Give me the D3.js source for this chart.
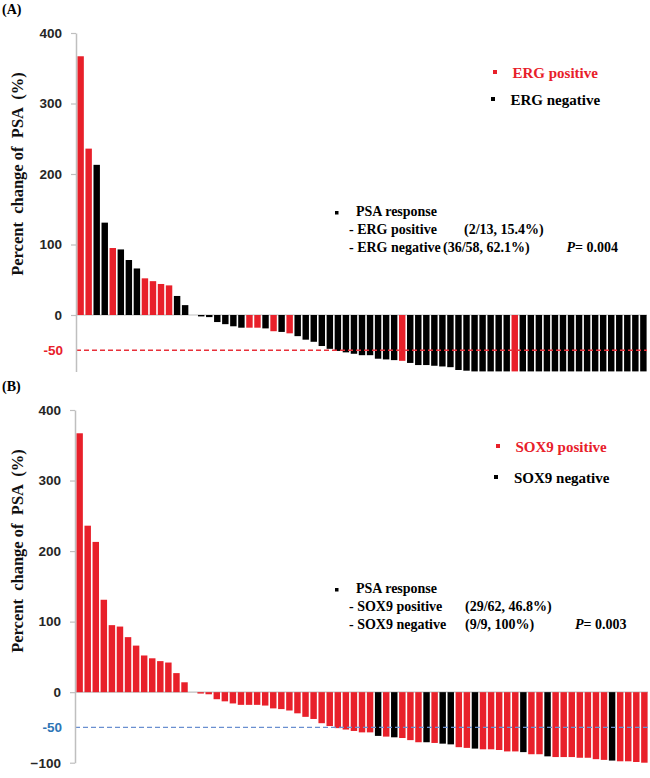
<!DOCTYPE html>
<html><head><meta charset="utf-8">
<script src="https://cdn.jsdelivr.net/npm/d3@7"></script>
<style>body{margin:0;background:#fff}svg text{white-space:pre}</style>
</head><body><svg id="chart" width="650" height="778"></svg>
<script>
// ---------- data ----------
const patients = d3.range(1, 72);   // 71 patients, sorted by PSA change
const psaChange = [367,236,213,131,95,93,78,66,52,48,
  44,42,27,14,0,-2,-3,-10,-13,-16,
  -18,-18,-18,-19,-23,-24,-26,-30,-35,-38,
  -44,-48,-51,-53,-55,-57,-57,-62,-63,-64,
  -65,-68,-71,-71,-72,-73,-74,-78,-79,-80,
  -81,-81,-82,-84,-84,-85,-88,-88,-91,-92,
  -92,-92,-93,-93,-95,-96,-97,-98,-98,-99,
  -100];
const ergPositivePatients = [1,2,5,9,10,11,12,22,23,25,27,41,55];
const sox9NegativePatients = [38,40,44,46,47,50,56,59,67];
const ticksA = [0,100,200,300,400];
const ticksB = [-100,0,100,200,300,400];
const domainA = [-80, 400];
const domainB = [-100, 400];
const threshold = -50;
const legendA = ["ERG positive", "ERG negative"];
const legendB = ["SOX9 positive", "SOX9 negative"];
const responseA = ["- ERG positive", "(2/13, 15.4%)", "- ERG negative", "(36/58, 62.1%)", "0.004"];
const responseB = ["- SOX9 positive", "(29/62, 46.8%)", "- SOX9 negative", "(9/9, 100%)", "0.003"];

// ---------- drawing ----------
const RED = "#e8202a", BLACK = "#000", GRAY = "#bfbfbf";
const serif = "'Liberation Serif','Times New Roman',serif";
const sans = "'Liberation Sans',Arial,sans-serif";
const svg = d3.select("#chart");

function drawPanel(p) {
  const g = svg.append("g");
  const x = d3.scaleBand().domain(patients).range(p.xRange).paddingInner(0.2).paddingOuter(0.05);
  const y = d3.scaleLinear().domain(p.domain).range(p.yRange).clamp(true);

  // zero line
  g.append("line").attr("x1", p.axisX).attr("x2", p.xRange[1])
    .attr("y1", y(0)).attr("y2", y(0)).attr("stroke", GRAY).attr("stroke-width", 1.2);

  // bars
  g.selectAll("rect.bar").data(patients).join("rect").attr("class", "bar")
    .attr("x", d => x(d))
    .attr("width", x.bandwidth())
    .attr("y", (d, i) => Math.min(y(psaChange[i]), y(0)))
    .attr("height", (d, i) => Math.abs(y(psaChange[i]) - y(0)))
    .attr("fill", d => p.isRed(d) ? RED : BLACK);

  // threshold dashed line
  g.append("line").attr("x1", p.axisX).attr("x2", p.xRange[1])
    .attr("y1", y(threshold)).attr("y2", y(threshold))
    .attr("stroke", p.refColor).attr("stroke-width", 1.3).attr("stroke-dasharray", "5,3");

  // axis
  const ax = g.append("g").attr("transform", `translate(${p.axisX},0)`)
    .call(d3.axisLeft(y).tickValues(p.ticks).tickSize(5).tickSizeOuter(0).tickPadding(9).tickFormat(d3.format("d")));
  ax.select(".domain").attr("stroke", GRAY).attr("stroke-width", 1.5);
  ax.selectAll(".tick line").attr("stroke", GRAY).attr("stroke-width", 1.2);
  ax.selectAll(".tick text").attr("fill", "#262626").attr("font-family", sans)
    .attr("font-weight", "bold").attr("font-size", 13.5);
  g.append("text").attr("x", p.axisX - 13).attr("y", y(threshold)).attr("dy", "0.32em")
    .attr("text-anchor", "end").attr("fill", p.refLabelColor).attr("font-family", sans)
    .attr("font-weight", "bold").attr("font-size", 13.5).text(String(threshold));

  // y title
  g.append("text").attr("transform", `translate(23,${p.titleY}) rotate(-90)`)
    .attr("text-anchor", "middle").attr("font-family", serif).attr("font-weight", "bold")
    .attr("font-size", 16.5).attr("fill", "#111").text("Percent  change of  PSA  (%)");

  // panel label
  g.append("text").attr("x", 2).attr("y", p.labelY).attr("font-family", serif)
    .attr("font-weight", "bold").attr("font-size", 14).text(p.label);

  // legend
  p.legend.forEach((t, i) => {
    const L = p.legendPos[i];
    g.append("rect").attr("x", L.sx).attr("y", L.sy).attr("width", 4).attr("height", 4)
      .attr("fill", i === 0 ? RED : BLACK);
    g.append("text").attr("x", L.tx).attr("y", L.ty).attr("font-family", serif)
      .attr("font-weight", "bold").attr("font-size", 15).attr("fill", i === 0 ? RED : BLACK).text(t);
  });

  // response annotation
  const a = p.ann;
  const txt = (xx, yy, s) => g.append("text").attr("x", xx).attr("y", yy).attr("font-family", serif)
    .attr("font-weight", "bold").attr("font-size", 14).attr("fill", "#000").text(s);
  g.append("rect").attr("x", 335).attr("y", a.y0 - 5).attr("width", 3.5).attr("height", 3.5).attr("fill", "#000");
  txt(356, a.y0, "PSA response");
  txt(349, a.y1, p.resp[0]);
  txt(a.c1, a.y1, p.resp[1]);
  txt(349, a.y2, p.resp[2]);
  txt(a.c2, a.y2, p.resp[3]);
  const pt = txt(a.px, a.y2, "");
  pt.append("tspan").attr("font-style", "italic").text("P");
  pt.append("tspan").text("= " + p.resp[4]);
}

drawPanel({
  label: "(A)", labelY: 14, axisX: 76, xRange: [77, 647],
  domain: domainA, yRange: [371.4, 33], ticks: ticksA,
  isRed: d => ergPositivePatients.includes(d),
  refColor: "#e8303a", refLabelColor: RED, titleY: 174,
  legend: legendA,
  legendPos: [{sx: 493, sy: 70, tx: 512.5, ty: 78}, {sx: 491, sy: 97, tx: 510.5, ty: 105}],
  resp: responseA,
  ann: {y0: 216, y1: 234, y2: 251.5, c1: 464, c2: 443, px: 566.5}
});
drawPanel({
  label: "(B)", labelY: 391, axisX: 75, xRange: [76, 648],
  domain: domainB, yRange: [762.7, 410], ticks: ticksB,
  isRed: d => !sox9NegativePatients.includes(d),
  refColor: "#6a8fd0", refLabelColor: "#2e75b6", titleY: 551,
  legend: legendB,
  legendPos: [{sx: 496, sy: 444, tx: 515.5, ty: 452}, {sx: 494, sy: 475, tx: 514, ty: 483}],
  resp: responseB,
  ann: {y0: 593, y1: 611, y2: 628.5, c1: 465, c2: 465, px: 575}
});
</script></body></html>
